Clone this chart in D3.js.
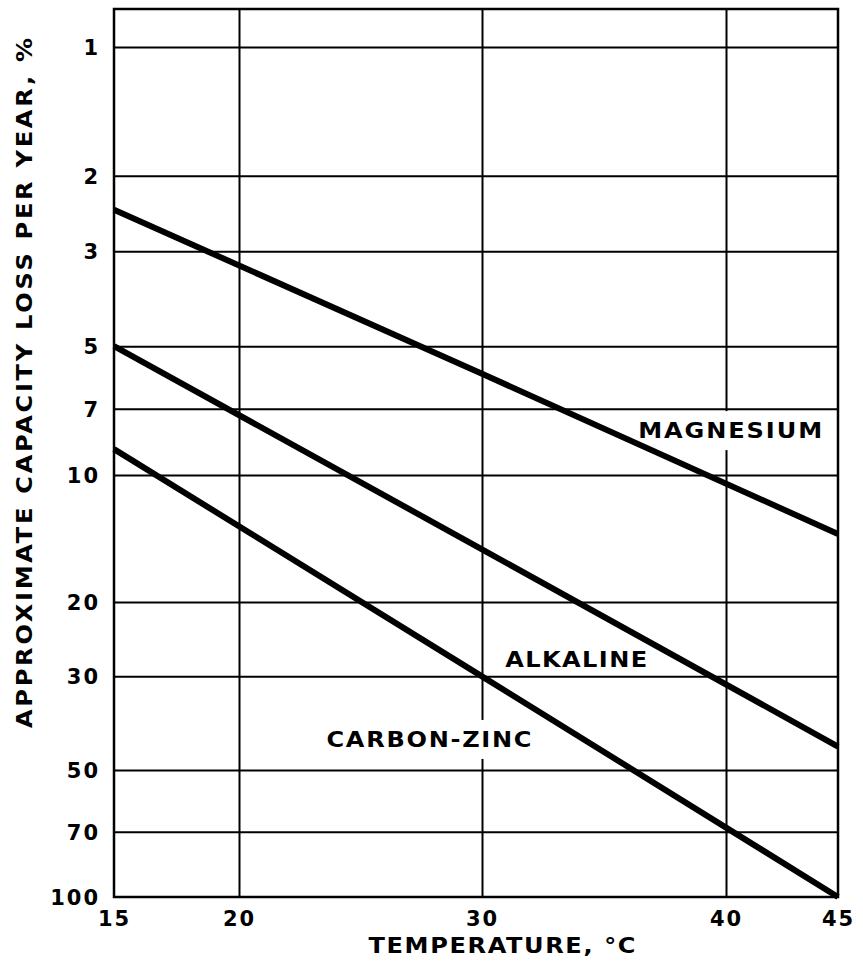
<!DOCTYPE html>
<html>
<head>
<meta charset="utf-8">
<script src="https://cdn.jsdelivr.net/npm/d3@7/dist/d3.min.js"></script>
<style>
  body { margin: 0; background: #fff; }
  text { font-family: "DejaVu Sans", "Liberation Sans", sans-serif; font-weight: bold; fill: #000; }
</style>
</head>
<body>
<svg id="chart" width="863" height="962"></svg>
<script>
// values (temperature in °C, capacity loss in %/year)
const temps = [15, 30, 45];
const magnesium = [2.4, 5.8, 13.8];
const alkaline = [5, 15, 44];
const carbonZinc = [8.7, 30, 100];
const seriesNames = ["MAGNESIUM", "ALKALINE", "CARBON-ZINC"];

const xTicks = [15, 20, 30, 40, 45];
const xGrid = [20, 30, 40];
const yTicks = [1, 2, 3, 5, 7, 10, 20, 30, 50, 70, 100];
const yGrid = [1, 2, 3, 5, 7, 10, 20, 30, 50, 70];

// layout
const plotLeft = 114, plotRight = 838, plotTop = 9, plotBottom = 897;
const stretch = 1.12; // the original lettering is an extended face
const svg = d3.select("#chart");

// the drafted axes are not quite uniform, so both scales are piecewise
const x = d3.scaleLinear().domain([15, 20, 30, 40, 45]).range([plotLeft, 239, 482, 726, plotRight]);
const y = d3.scaleLog().domain([1, 10, 100]).range([47, 475, plotBottom]);

// where each curve label starts (temperature, value at baseline), and whether it knocks out the grid
const labelSpots = [
  { t: 36.4, v: 8.2, width: 184, box: true },
  { t: 30.95, v: 28.5, width: 142, box: false },
  { t: 23.6, v: 44.1, width: 205, box: true }
];

const gridLayer = svg.append("g");
const boxLayer = svg.append("g");
const frameLayer = svg.append("g");
const lineLayer = svg.append("g");
const textLayer = svg.append("g");

function wideText(px, py, str, width, anchor, rot) {
  const g = textLayer.append("g")
    .attr("transform", `translate(${px},${py}) rotate(${rot || 0}) scale(${stretch},1)`);
  g.append("text")
    .attr("text-anchor", anchor)
    .attr("font-size", 21.5)
    .attr("textLength", width / stretch).attr("lengthAdjust", "spacing")
    .text(str);
  return g;
}

// horizontal grid + y tick labels
const yAxis = gridLayer.append("g")
  .attr("transform", `translate(${plotLeft},0)`)
  .call(d3.axisLeft(y).tickValues(yTicks).tickFormat(d3.format("d"))
    .tickSize(-(plotRight - plotLeft)).tickPadding(14));
yAxis.select(".domain").remove();
yAxis.selectAll(".tick line")
  .attr("stroke", "#000").attr("stroke-width", 2)
  .attr("display", d => yGrid.includes(d) ? null : "none");
yAxis.selectAll(".tick text")
  .attr("font-size", 21).attr("letter-spacing", 2).attr("dy", "0.36em");

// vertical grid + x tick labels
const xAxis = gridLayer.append("g")
  .attr("transform", `translate(0,${plotBottom})`)
  .call(d3.axisBottom(x).tickValues(xTicks).tickFormat(d3.format("d"))
    .tickSize(-(plotBottom - plotTop)).tickPadding(14));
xAxis.select(".domain").remove();
xAxis.selectAll(".tick line")
  .attr("stroke", "#000").attr("stroke-width", 2)
  .attr("display", d => xGrid.includes(d) ? null : "none");
xAxis.selectAll(".tick text")
  .attr("font-size", 21).attr("letter-spacing", 2);

// frame
frameLayer.append("rect")
  .attr("x", plotLeft).attr("y", plotTop)
  .attr("width", plotRight - plotLeft).attr("height", plotBottom - plotTop)
  .attr("fill", "none").attr("stroke", "#000").attr("stroke-width", 2.5);

// curves
const line = d3.line().x((d, i) => x(temps[i])).y(d => y(d));
lineLayer.selectAll("path")
  .data([magnesium, alkaline, carbonZinc])
  .join("path")
  .attr("d", line)
  .attr("fill", "none")
  .attr("stroke", "#000")
  .attr("stroke-width", 6);

// curve labels
seriesNames.forEach((name, i) => {
  const s = labelSpots[i];
  const px = x(s.t), py = y(s.v);
  wideText(px, py, name, s.width, "start");
  if (s.box) {
    boxLayer.append("rect")
      .attr("x", px - 6).attr("y", py - 27)
      .attr("width", s.width + 12).attr("height", 39)
      .attr("fill", "#fff");
  }
});

// axis titles
wideText(502, 953, "TEMPERATURE, °C", 267, "middle");
wideText(32, 383, "APPROXIMATE CAPACITY LOSS PER YEAR, %", 690, "middle", -90);
</script>
</body>
</html>
